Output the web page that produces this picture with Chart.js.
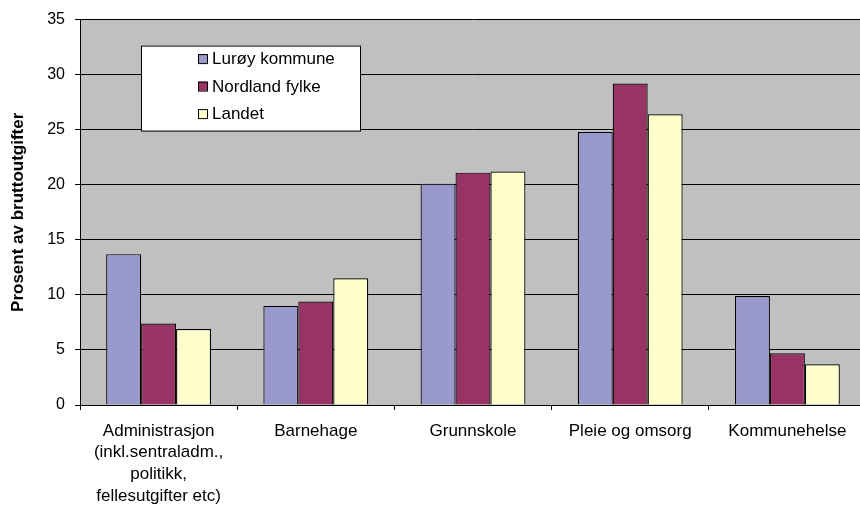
<!DOCTYPE html>
<html>
<head>
<meta charset="utf-8">
<script src="https://cdn.jsdelivr.net/npm/chart.js@4/dist/chart.umd.min.js"></script>
<style>
html,body{margin:0;padding:0;background:#fff;overflow:hidden;}
#wrap{width:880px;height:507px;position:relative;}
</style>
</head>
<body>
<div id="wrap"><canvas id="c"></canvas></div>
<script>
const categories = [
  ["Administrasjon", "(inkl.sentraladm.,", "politikk,", "fellesutgifter etc)"],
  "Barnehage",
  "Grunnskole",
  "Pleie og omsorg",
  "Kommunehelse"
];
const seriesNames = ["Lurøy kommune", "Nordland fylke", "Landet"];
const luroy = [13.7, 9.0, 20.1, 24.8, 9.9];
const nordland = [7.4, 9.4, 21.1, 29.2, 4.7];
const landet = [6.9, 11.5, 21.2, 26.4, 3.7];
const yTitle = "Prosent av bruttoutgifter";
const colors = ["#9999CC", "#993366", "#FFFFCC"];

const FONT = "'Liberation Sans', Arial, sans-serif";

const plotBg = {
  id: 'plotBg',
  beforeDraw(chart) {
    const {ctx, chartArea: a} = chart;
    ctx.save();
    ctx.fillStyle = '#C0C0C0';
    ctx.fillRect(a.left, a.top, a.right - a.left, a.bottom - a.top);
    ctx.restore();
  }
};

const boxLegend = {
  id: 'boxLegend',
  afterDraw(chart) {
    const {ctx, chartArea: a} = chart;
    const x = a.left + 61, y = a.top + 26, w = 219, h = 85;
    ctx.save();
    ctx.fillStyle = '#fff';
    ctx.fillRect(x, y, w, h);
    ctx.strokeStyle = '#000';
    ctx.lineWidth = 1;
    ctx.strokeRect(x + 0.5, y + 0.5, w, h);
    ctx.font = "17px " + FONT;
    ctx.textBaseline = 'middle';
    ctx.fillStyle = '#000';
    chart.data.datasets.forEach((ds, i) => {
      const cy = y + 13 + i * 27.5;
      const sx = x + 57;
      ctx.fillStyle = ds.backgroundColor;
      ctx.fillRect(sx, cy - 4.5, 9, 9);
      ctx.strokeStyle = '#000';
      ctx.strokeRect(sx + 0.5, cy - 4.5 + 0.5, 9, 9);
      ctx.fillStyle = '#000';
      ctx.fillText(ds.label, sx + 14, cy + 1);
    });
    ctx.restore();
  }
};

new Chart(document.getElementById('c'), {
  type: 'bar',
  data: {
    labels: categories,
    datasets: [
      {label: seriesNames[0], data: luroy, backgroundColor: colors[0]},
      {label: seriesNames[1], data: nordland, backgroundColor: colors[1]},
      {label: seriesNames[2], data: landet, backgroundColor: colors[2]}
    ].map(d => Object.assign(d, {borderColor: '#000', borderWidth: 1.2, categoryPercentage: 0.667, barPercentage: 1}))
  },
  options: {
    responsive: true,
    maintainAspectRatio: false,
    animation: false,
    layout: {padding: {top: 19, right: 14, left: 0, bottom: 0}},
    plugins: {
      legend: {display: false},
      tooltip: {enabled: false}
    },
    scales: {
      x: {
        grid: {display: true, drawOnChartArea: false, color: '#000', tickLength: 5, offset: true},
        border: {color: '#000', width: 1},
        ticks: {color: '#000', font: {family: FONT, size: 17, lineHeight: 1.28}, padding: 10, maxRotation: 0, autoSkip: false},
        afterFit(s) { s.height = 102; }
      },
      y: {
        min: 0, max: 35,
        ticks: {stepSize: 5, color: '#000', font: {family: FONT, size: 16}, padding: 10},
        grid: {color: '#000', tickLength: 5, lineWidth: 1},
        border: {color: '#000', width: 1},
        title: {display: true, text: yTitle, color: '#000', font: {family: FONT, size: 17, weight: 'bold'}, padding: {top: 8, bottom: 0}},
        afterFit(s) { s.width = 80; }
      }
    }
  },
  plugins: [plotBg, boxLegend]
});
</script>
</body>
</html>
